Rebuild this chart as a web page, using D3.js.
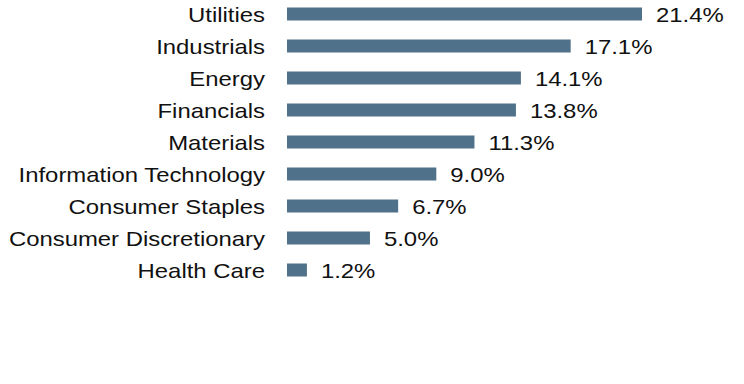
<!DOCTYPE html>
<html>
<head>
<meta charset="utf-8">
<script src="https://cdn.jsdelivr.net/npm/d3@7"></script>
<style>
  html, body { margin: 0; padding: 0; background: #fff; }
  svg { display: block; }
  text { font-family: "Liberation Sans", Arial, sans-serif; fill: #111; }
</style>
</head>
<body>
<svg id="chart" width="744" height="384"></svg>
<script>
const categories = ["Utilities", "Industrials", "Energy", "Financials", "Materials",
  "Information Technology", "Consumer Staples", "Consumer Discretionary", "Health Care"];
const values = [21.4, 17.1, 14.1, 13.8, 11.3, 9.0, 6.7, 5.0, 1.2];
const valueLabels = ["21.4%", "17.1%", "14.1%", "13.8%", "11.3%", "9.0%", "6.7%", "5.0%", "1.2%"];

const svg = d3.select("#chart");
const fontSize = 20, stretch = 1.195;

const x = d3.scaleLinear().domain([0, 21.4]).range([287, 642]);
const y = d3.scaleBand().domain(categories).range([-2, 286])
  .paddingInner(0.594).paddingOuter(0.297);

const data = categories.map((c, i) => ({ c, v: values[i], l: valueLabels[i] }));

svg.selectAll("rect.bar").data(data).join("rect")
  .attr("class", "bar")
  .attr("x", x(0))
  .attr("y", d => y(d.c))
  .attr("width", d => x(d.v) - x(0))
  .attr("height", y.bandwidth())
  .attr("fill", "#4f7189");

svg.selectAll("g.cat").data(data).join("g")
  .attr("class", "cat")
  .attr("transform", d => `translate(265,${y(d.c) + y.bandwidth() / 2}) scale(${stretch},1)`)
  .append("text")
  .attr("text-anchor", "end")
  .attr("dy", "0.4em")
  .style("font-size", fontSize + "px")
  .text(d => d.c);

svg.selectAll("g.val").data(data).join("g")
  .attr("class", "val")
  .attr("transform", d => `translate(${x(d.v) + 14},${y(d.c) + y.bandwidth() / 2}) scale(${stretch},1)`)
  .append("text")
  .attr("text-anchor", "start")
  .attr("dy", "0.4em")
  .style("font-size", fontSize + "px")
  .text(d => d.l);
</script>
</body>
</html>
